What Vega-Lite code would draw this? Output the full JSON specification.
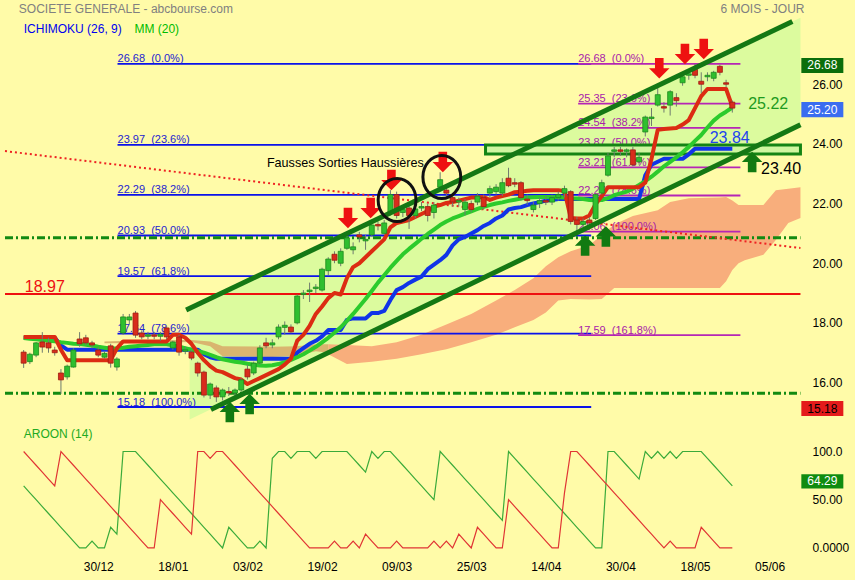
{
  "$schema": "https://vega.github.io/schema/vega-lite/v6.json",
  "width": 855,
  "height": 580,
  "autosize": {"type": "none"},
  "padding": 0,
  "background": "#fffba8",
  "config": {
    "view": {"stroke": null},
    "font": "Liberation Sans",
    "axis": {"labelFont": "Liberation Sans", "labelFontSize": 12, "labelColor": "#000000", "domain": false, "ticks": false, "grid": false, "title": null, "labelOverlap": false}
  },
  "datasets": {
    "px": [
      {"t":0,"o":17.02,"h":17.09,"l":16.49,"c":16.65,"tk":17.53,"kj":17.5,"mm":17.49,"au":64.29,"ad":100},
      {"t":1,"o":16.7,"h":17.0,"l":16.62,"c":16.95,"tk":17.53,"kj":17.5,"mm":17.47,"au":57.14,"ad":92.86},
      {"t":2,"o":16.92,"h":17.36,"l":16.85,"c":17.33,"tk":17.53,"kj":17.5,"mm":17.45,"au":50,"ad":85.71},
      {"t":3,"o":17.36,"h":17.69,"l":17.0,"c":17.19,"tk":17.53,"kj":17.5,"mm":17.43,"au":42.86,"ad":78.57},
      {"t":4,"o":17.33,"h":17.5,"l":17.0,"c":17.16,"tk":17.53,"kj":17.5,"mm":17.4,"au":35.71,"ad":71.43},
      {"t":5,"o":17.09,"h":17.2,"l":16.9,"c":17.0,"tk":17.53,"kj":17.5,"mm":17.38,"au":28.57,"ad":64.29},
      {"t":6,"o":16.32,"h":16.45,"l":15.62,"c":16.09,"tk":17.1,"kj":17.25,"mm":17.35,"au":21.43,"ad":100},
      {"t":7,"o":16.19,"h":16.6,"l":16.1,"c":16.55,"tk":16.75,"kj":17.1,"mm":17.33,"au":14.29,"ad":92.86},
      {"t":8,"o":16.52,"h":17.15,"l":16.5,"c":17.09,"tk":16.75,"kj":17.1,"mm":17.3,"au":7.14,"ad":85.71},
      {"t":9,"o":17.46,"h":17.69,"l":17.2,"c":17.3,"tk":16.75,"kj":17.1,"mm":17.29,"au":0,"ad":78.57},
      {"t":10,"o":17.5,"h":17.6,"l":17.25,"c":17.33,"tk":16.75,"kj":17.1,"mm":17.27,"au":0,"ad":71.43},
      {"t":11,"o":17.33,"h":17.4,"l":17.15,"c":17.26,"tk":16.75,"kj":17.1,"mm":17.24,"au":7.14,"ad":64.29},
      {"t":12,"o":17.09,"h":17.2,"l":16.85,"c":16.92,"tk":16.75,"kj":17.1,"mm":17.2,"au":0,"ad":57.14},
      {"t":13,"o":16.85,"h":17.05,"l":16.8,"c":16.98,"tk":16.75,"kj":17.1,"mm":17.17,"au":0,"ad":50},
      {"t":14,"o":17.23,"h":17.3,"l":16.5,"c":16.65,"tk":16.75,"kj":17.1,"mm":17.14,"au":21.43,"ad":42.86},
      {"t":15,"o":16.52,"h":16.85,"l":16.4,"c":16.79,"tk":17.15,"kj":17.1,"mm":17.15,"au":14.29,"ad":35.71},
      {"t":16,"o":17.66,"h":18.3,"l":17.6,"c":18.2,"tk":17.38,"kj":17.1,"mm":17.17,"au":100,"ad":28.57},
      {"t":17,"o":18.1,"h":18.3,"l":17.95,"c":18.2,"tk":17.38,"kj":17.1,"mm":17.2,"au":100,"ad":21.43},
      {"t":18,"o":18.33,"h":18.4,"l":17.5,"c":17.59,"tk":17.38,"kj":17.1,"mm":17.22,"au":100,"ad":14.29},
      {"t":19,"o":17.66,"h":17.75,"l":17.45,"c":17.53,"tk":17.38,"kj":17.1,"mm":17.24,"au":92.86,"ad":7.14},
      {"t":20,"o":17.55,"h":17.7,"l":17.45,"c":17.6,"tk":17.38,"kj":17.1,"mm":17.26,"au":85.71,"ad":0},
      {"t":21,"o":17.6,"h":17.7,"l":17.45,"c":17.55,"tk":17.38,"kj":17.1,"mm":17.28,"au":78.57,"ad":0},
      {"t":22,"o":17.55,"h":17.7,"l":17.4,"c":17.62,"tk":17.38,"kj":17.1,"mm":17.28,"au":71.43,"ad":50},
      {"t":23,"o":17.83,"h":17.9,"l":17.45,"c":17.53,"tk":17.38,"kj":17.1,"mm":17.28,"au":64.29,"ad":42.86},
      {"t":24,"o":17.16,"h":17.4,"l":17.1,"c":17.36,"tk":17.6,"kj":17.1,"mm":17.25,"au":57.14,"ad":35.71},
      {"t":25,"o":17.53,"h":17.6,"l":16.9,"c":17.02,"tk":17.6,"kj":17.1,"mm":17.2,"au":50,"ad":28.57},
      {"t":26,"o":17.05,"h":17.2,"l":16.95,"c":17.1,"tk":17.5,"kj":17.1,"mm":17.15,"au":42.86,"ad":21.43},
      {"t":27,"o":17.02,"h":17.1,"l":16.75,"c":16.82,"tk":17.3,"kj":17.1,"mm":17.1,"au":35.71,"ad":14.29},
      {"t":28,"o":16.65,"h":16.7,"l":16.2,"c":16.32,"tk":17.0,"kj":17.1,"mm":17.05,"au":28.57,"ad":100},
      {"t":29,"o":16.35,"h":16.4,"l":15.5,"c":15.58,"tk":16.75,"kj":16.95,"mm":17.0,"au":21.43,"ad":100},
      {"t":30,"o":15.58,"h":16.0,"l":15.45,"c":15.95,"tk":16.55,"kj":16.85,"mm":16.93,"au":14.29,"ad":92.86},
      {"t":31,"o":15.82,"h":15.9,"l":15.35,"c":15.52,"tk":16.4,"kj":16.8,"mm":16.85,"au":7.14,"ad":100},
      {"t":32,"o":15.52,"h":15.8,"l":15.4,"c":15.75,"tk":16.35,"kj":16.8,"mm":16.78,"au":0,"ad":100},
      {"t":33,"o":15.7,"h":15.85,"l":15.55,"c":15.65,"tk":16.25,"kj":16.8,"mm":16.74,"au":21.43,"ad":92.86},
      {"t":34,"o":15.65,"h":15.8,"l":15.55,"c":15.75,"tk":16.15,"kj":16.8,"mm":16.7,"au":14.29,"ad":85.71},
      {"t":35,"o":15.75,"h":16.15,"l":15.7,"c":16.09,"tk":16.1,"kj":16.8,"mm":16.67,"au":7.14,"ad":78.57},
      {"t":36,"o":16.45,"h":16.6,"l":16.1,"c":16.19,"tk":15.95,"kj":16.8,"mm":16.63,"au":0,"ad":71.43},
      {"t":37,"o":16.32,"h":16.7,"l":16.25,"c":16.65,"tk":16.05,"kj":16.8,"mm":16.6,"au":0,"ad":64.29},
      {"t":38,"o":16.65,"h":17.25,"l":16.6,"c":17.16,"tk":16.15,"kj":16.8,"mm":16.57,"au":7.14,"ad":57.14},
      {"t":39,"o":17.33,"h":17.5,"l":17.15,"c":17.23,"tk":16.25,"kj":16.8,"mm":16.56,"au":0,"ad":50},
      {"t":40,"o":17.26,"h":17.45,"l":17.15,"c":17.33,"tk":16.35,"kj":16.8,"mm":16.58,"au":92.86,"ad":42.86},
      {"t":41,"o":17.53,"h":17.95,"l":17.45,"c":17.86,"tk":16.45,"kj":16.8,"mm":16.62,"au":100,"ad":35.71},
      {"t":42,"o":17.85,"h":18.05,"l":17.6,"c":17.92,"tk":16.6,"kj":16.8,"mm":16.68,"au":100,"ad":28.57},
      {"t":43,"o":17.86,"h":17.95,"l":17.65,"c":17.7,"tk":16.8,"kj":16.8,"mm":16.76,"au":92.86,"ad":21.43},
      {"t":44,"o":18.0,"h":18.95,"l":17.95,"c":18.9,"tk":17.4,"kj":17.0,"mm":16.85,"au":100,"ad":14.29},
      {"t":45,"o":18.95,"h":19.1,"l":18.8,"c":19.0,"tk":17.6,"kj":17.15,"mm":16.95,"au":100,"ad":7.14},
      {"t":46,"o":19.05,"h":19.35,"l":18.7,"c":19.1,"tk":17.9,"kj":17.3,"mm":17.07,"au":100,"ad":0},
      {"t":47,"o":19.15,"h":19.3,"l":19.0,"c":19.2,"tk":18.3,"kj":17.4,"mm":17.2,"au":92.86,"ad":0},
      {"t":48,"o":19.1,"h":19.85,"l":19.05,"c":19.8,"tk":18.55,"kj":17.55,"mm":17.35,"au":100,"ad":0},
      {"t":49,"o":19.75,"h":20.2,"l":19.6,"c":20.14,"tk":18.83,"kj":17.76,"mm":17.5,"au":100,"ad":0},
      {"t":50,"o":20.3,"h":20.4,"l":20.0,"c":20.1,"tk":19.0,"kj":17.76,"mm":17.67,"au":100,"ad":7.14},
      {"t":51,"o":20.0,"h":20.5,"l":19.9,"c":20.4,"tk":18.95,"kj":17.76,"mm":17.85,"au":100,"ad":0},
      {"t":52,"o":20.5,"h":20.95,"l":20.45,"c":20.85,"tk":19.5,"kj":18.1,"mm":18.07,"au":100,"ad":0},
      {"t":53,"o":20.45,"h":20.7,"l":20.3,"c":20.55,"tk":19.87,"kj":18.15,"mm":18.3,"au":92.86,"ad":7.14},
      {"t":54,"o":20.95,"h":21.05,"l":20.7,"c":20.88,"tk":20.0,"kj":18.15,"mm":18.55,"au":85.71,"ad":0},
      {"t":55,"o":20.75,"h":20.95,"l":20.45,"c":20.8,"tk":20.2,"kj":18.15,"mm":18.8,"au":78.57,"ad":14.29},
      {"t":56,"o":20.95,"h":21.4,"l":20.9,"c":21.28,"tk":20.4,"kj":18.33,"mm":19.07,"au":100,"ad":7.14},
      {"t":57,"o":21.3,"h":21.4,"l":21.1,"c":21.25,"tk":20.6,"kj":18.33,"mm":19.35,"au":92.86,"ad":0},
      {"t":58,"o":21.0,"h":21.45,"l":20.95,"c":21.35,"tk":20.8,"kj":18.4,"mm":19.6,"au":100,"ad":0},
      {"t":59,"o":21.7,"h":22.45,"l":21.6,"c":22.3,"tk":21.2,"kj":18.77,"mm":19.85,"au":100,"ad":0},
      {"t":60,"o":22.3,"h":22.4,"l":21.5,"c":21.6,"tk":21.35,"kj":19.1,"mm":20.08,"au":92.86,"ad":7.14},
      {"t":61,"o":21.7,"h":21.9,"l":21.55,"c":21.8,"tk":21.4,"kj":19.2,"mm":20.3,"au":85.71,"ad":0},
      {"t":62,"o":21.85,"h":22.0,"l":21.15,"c":21.6,"tk":21.45,"kj":19.34,"mm":20.48,"au":78.57,"ad":0},
      {"t":63,"o":21.6,"h":21.95,"l":21.5,"c":21.82,"tk":21.55,"kj":19.45,"mm":20.65,"au":71.43,"ad":0},
      {"t":64,"o":21.85,"h":22.05,"l":21.75,"c":21.9,"tk":21.65,"kj":19.55,"mm":20.82,"au":64.29,"ad":0},
      {"t":65,"o":21.9,"h":22.0,"l":21.4,"c":21.6,"tk":21.75,"kj":19.8,"mm":20.98,"au":57.14,"ad":0},
      {"t":66,"o":21.7,"h":22.05,"l":21.5,"c":21.95,"tk":21.9,"kj":19.95,"mm":21.13,"au":50,"ad":7.14},
      {"t":67,"o":22.55,"h":23.05,"l":22.4,"c":22.8,"tk":21.95,"kj":20.1,"mm":21.28,"au":100,"ad":0},
      {"t":68,"o":22.45,"h":22.55,"l":22.2,"c":22.35,"tk":22.02,"kj":20.28,"mm":21.4,"au":92.86,"ad":7.14},
      {"t":69,"o":22.2,"h":22.3,"l":21.9,"c":22.05,"tk":22.05,"kj":20.6,"mm":21.5,"au":85.71,"ad":0},
      {"t":70,"o":22.05,"h":22.2,"l":21.9,"c":22.1,"tk":22.1,"kj":20.8,"mm":21.58,"au":78.57,"ad":14.29},
      {"t":71,"o":21.8,"h":22.15,"l":21.6,"c":22.05,"tk":22.15,"kj":20.88,"mm":21.66,"au":71.43,"ad":7.14},
      {"t":72,"o":22.0,"h":22.1,"l":21.7,"c":21.8,"tk":22.2,"kj":21.0,"mm":21.74,"au":64.29,"ad":0},
      {"t":73,"o":22.05,"h":22.35,"l":21.95,"c":22.25,"tk":22.2,"kj":21.11,"mm":21.82,"au":57.14,"ad":21.43},
      {"t":74,"o":22.2,"h":22.3,"l":21.8,"c":21.9,"tk":22.22,"kj":21.25,"mm":21.89,"au":50,"ad":14.29},
      {"t":75,"o":22.35,"h":22.6,"l":22.2,"c":22.5,"tk":22.12,"kj":21.35,"mm":21.95,"au":42.86,"ad":7.14},
      {"t":76,"o":22.4,"h":22.65,"l":22.3,"c":22.55,"tk":22.2,"kj":21.5,"mm":22.0,"au":35.71,"ad":0},
      {"t":77,"o":22.35,"h":22.85,"l":22.25,"c":22.7,"tk":22.25,"kj":21.6,"mm":22.04,"au":28.57,"ad":0},
      {"t":78,"o":22.85,"h":23.2,"l":22.55,"c":22.6,"tk":22.3,"kj":21.8,"mm":22.09,"au":100,"ad":50},
      {"t":79,"o":22.7,"h":22.85,"l":22.55,"c":22.65,"tk":22.38,"kj":21.85,"mm":22.13,"au":92.86,"ad":42.86},
      {"t":80,"o":22.7,"h":22.75,"l":22.1,"c":22.2,"tk":22.4,"kj":21.88,"mm":22.17,"au":85.71,"ad":35.71},
      {"t":81,"o":22.15,"h":22.3,"l":21.95,"c":22.1,"tk":22.43,"kj":21.95,"mm":22.2,"au":78.57,"ad":28.57},
      {"t":82,"o":21.8,"h":22.05,"l":21.7,"c":21.95,"tk":22.45,"kj":22.0,"mm":22.21,"au":71.43,"ad":21.43},
      {"t":83,"o":22.0,"h":22.2,"l":21.85,"c":22.1,"tk":22.45,"kj":22.05,"mm":22.22,"au":64.29,"ad":14.29},
      {"t":84,"o":22.1,"h":22.25,"l":21.95,"c":22.05,"tk":22.45,"kj":22.1,"mm":22.22,"au":57.14,"ad":7.14},
      {"t":85,"o":22.05,"h":22.3,"l":21.95,"c":22.2,"tk":22.45,"kj":22.12,"mm":22.22,"au":50,"ad":0},
      {"t":86,"o":22.2,"h":22.4,"l":22.1,"c":22.3,"tk":22.45,"kj":22.15,"mm":22.21,"au":42.86,"ad":0},
      {"t":87,"o":22.35,"h":22.6,"l":22.2,"c":22.5,"tk":22.42,"kj":22.15,"mm":22.2,"au":35.71,"ad":57.14},
      {"t":88,"o":22.4,"h":22.45,"l":21.3,"c":21.4,"tk":21.52,"kj":22.15,"mm":22.18,"au":28.57,"ad":100},
      {"t":89,"o":21.45,"h":21.55,"l":21.0,"c":21.3,"tk":21.5,"kj":22.15,"mm":22.17,"au":21.43,"ad":100},
      {"t":90,"o":21.3,"h":21.5,"l":21.2,"c":21.4,"tk":21.5,"kj":22.15,"mm":22.15,"au":14.29,"ad":92.86},
      {"t":91,"o":21.45,"h":21.55,"l":21.2,"c":21.35,"tk":21.6,"kj":22.15,"mm":22.12,"au":7.14,"ad":85.71},
      {"t":92,"o":21.5,"h":22.35,"l":21.45,"c":22.3,"tk":21.98,"kj":22.15,"mm":22.11,"au":0,"ad":78.57},
      {"t":93,"o":22.35,"h":22.8,"l":22.3,"c":22.7,"tk":22.25,"kj":22.15,"mm":22.12,"au":0,"ad":71.43},
      {"t":94,"o":22.95,"h":23.7,"l":22.9,"c":23.6,"tk":22.55,"kj":22.15,"mm":22.18,"au":100,"ad":64.29},
      {"t":95,"o":23.75,"h":23.9,"l":23.55,"c":23.8,"tk":22.55,"kj":22.15,"mm":22.28,"au":100,"ad":57.14},
      {"t":96,"o":23.8,"h":23.9,"l":23.6,"c":23.75,"tk":22.55,"kj":22.15,"mm":22.34,"au":92.86,"ad":50},
      {"t":97,"o":23.75,"h":23.85,"l":23.55,"c":23.8,"tk":22.55,"kj":22.15,"mm":22.4,"au":85.71,"ad":42.86},
      {"t":98,"o":23.8,"h":23.9,"l":23.25,"c":23.3,"tk":22.55,"kj":22.15,"mm":22.5,"au":78.57,"ad":35.71},
      {"t":99,"o":23.4,"h":23.7,"l":23.3,"c":23.55,"tk":22.55,"kj":22.15,"mm":22.62,"au":71.43,"ad":28.57},
      {"t":100,"o":24.4,"h":24.95,"l":24.25,"c":24.9,"tk":22.7,"kj":22.95,"mm":22.75,"au":100,"ad":21.43},
      {"t":101,"o":24.85,"h":25.2,"l":24.6,"c":24.9,"tk":23.5,"kj":23.3,"mm":22.9,"au":92.86,"ad":14.29},
      {"t":102,"o":25.3,"h":25.95,"l":25.25,"c":25.65,"tk":24.47,"kj":23.4,"mm":23.07,"au":100,"ad":7.14},
      {"t":103,"o":25.25,"h":25.4,"l":25.05,"c":25.2,"tk":24.5,"kj":23.5,"mm":23.25,"au":92.86,"ad":0},
      {"t":104,"o":25.3,"h":25.8,"l":24.95,"c":25.75,"tk":24.52,"kj":23.5,"mm":23.4,"au":100,"ad":7.14},
      {"t":105,"o":25.55,"h":25.7,"l":25.25,"c":25.45,"tk":24.53,"kj":23.5,"mm":23.55,"au":92.86,"ad":0},
      {"t":106,"o":26.05,"h":26.35,"l":25.95,"c":26.25,"tk":24.65,"kj":23.5,"mm":23.72,"au":100,"ad":0},
      {"t":107,"o":26.3,"h":26.45,"l":26.15,"c":26.35,"tk":24.8,"kj":23.65,"mm":23.9,"au":100,"ad":0},
      {"t":108,"o":26.5,"h":26.68,"l":26.2,"c":26.3,"tk":25.2,"kj":23.84,"mm":24.1,"au":100,"ad":0},
      {"t":109,"o":26.1,"h":26.4,"l":25.7,"c":26.0,"tk":25.6,"kj":23.84,"mm":24.3,"au":100,"ad":21.43},
      {"t":110,"o":26.25,"h":26.4,"l":26.1,"c":26.3,"tk":25.84,"kj":23.84,"mm":24.55,"au":92.86,"ad":14.29},
      {"t":111,"o":26.2,"h":26.45,"l":26.1,"c":26.4,"tk":25.84,"kj":23.84,"mm":24.78,"au":85.71,"ad":7.14},
      {"t":112,"o":26.6,"h":26.65,"l":26.3,"c":26.4,"tk":25.84,"kj":23.84,"mm":24.95,"au":78.57,"ad":0},
      {"t":113,"o":26.05,"h":26.15,"l":25.9,"c":26.0,"tk":25.84,"kj":23.84,"mm":25.08,"au":71.43,"ad":0},
      {"t":114,"o":25.4,"h":25.45,"l":25.05,"c":25.2,"tk":25.25,"kj":23.84,"mm":25.22,"au":64.29,"ad":0}
    ],
    "kumo": [
      {"t":13,"a":17.38,"b":17.32,"k":"t"},
      {"t":20,"a":17.42,"b":17.33,"k":"t"},
      {"t":27,"a":17.43,"b":17.36,"k":"t"},
      {"t":30,"a":17.38,"b":17.22,"k":"t"},
      {"t":32,"a":17.22,"b":16.88,"k":"t"},
      {"t":40,"a":17.2,"b":16.86,"k":"t"},
      {"t":44,"a":17.22,"b":16.9,"k":"t"},
      {"t":47,"a":17.28,"b":17.05,"k":"t"},
      {"t":49,"a":17.28,"b":17.0,"k":"t"},
      {"t":49,"a":17.28,"b":16.95,"k":"s"},
      {"t":52,"a":17.26,"b":16.62,"k":"s"},
      {"t":56,"a":17.22,"b":16.7,"k":"s"},
      {"t":60,"a":17.35,"b":16.8,"k":"s"},
      {"t":64,"a":17.6,"b":16.95,"k":"s"},
      {"t":68,"a":17.95,"b":17.12,"k":"s"},
      {"t":72,"a":18.3,"b":17.35,"k":"s"},
      {"t":76,"a":18.75,"b":17.6,"k":"s"},
      {"t":79,"a":19.1,"b":17.85,"k":"s"},
      {"t":82,"a":19.5,"b":18.1,"k":"s"},
      {"t":84,"a":19.9,"b":18.35,"k":"s"},
      {"t":86,"a":20.2,"b":18.75,"k":"s"},
      {"t":88,"a":20.4,"b":18.8,"k":"s"},
      {"t":91,"a":20.6,"b":18.78,"k":"s"},
      {"t":93,"a":20.95,"b":18.8,"k":"s"},
      {"t":95,"a":21.3,"b":19.17,"k":"s"},
      {"t":98,"a":21.58,"b":19.17,"k":"s"},
      {"t":102,"a":21.78,"b":19.17,"k":"s"},
      {"t":104,"a":22.05,"b":19.17,"k":"s"},
      {"t":107,"a":22.18,"b":19.17,"k":"s"},
      {"t":112,"a":22.2,"b":19.17,"k":"s"},
      {"t":113,"a":22.22,"b":19.4,"k":"s"},
      {"t":114,"a":22.1,"b":19.77,"k":"s"},
      {"t":115,"a":21.95,"b":20.0,"k":"s"},
      {"t":116,"a":21.95,"b":20.1,"k":"s"},
      {"t":119,"a":21.95,"b":20.28,"k":"s"},
      {"t":121,"a":22.45,"b":20.78,"k":"s"},
      {"t":123,"a":22.5,"b":21.35,"k":"s"},
      {"t":124.96,"a":22.55,"b":21.52,"k":"s"}
    ],
    "fib": [
      {"t":15.1,"t2":91.3,"p":26.68,"lab":"26.68\u00a0\u00a0(0.0%)","g":"b"},
      {"t":15.1,"t2":91.3,"p":23.97,"lab":"23.97\u00a0\u00a0(23.6%)","g":"b"},
      {"t":15.1,"t2":91.3,"p":22.29,"lab":"22.29\u00a0\u00a0(38.2%)","g":"b"},
      {"t":15.1,"t2":91.3,"p":20.93,"lab":"20.93\u00a0\u00a0(50.0%)","g":"b"},
      {"t":15.1,"t2":91.3,"p":19.57,"lab":"19.57\u00a0\u00a0(61.8%)","g":"b"},
      {"t":15.1,"t2":91.3,"p":17.64,"lab":"17.64\u00a0\u00a0(78.6%)","g":"b"},
      {"t":15.1,"t2":91.3,"p":15.18,"lab":"15.18\u00a0\u00a0(100.0%)","g":"b"},
      {"t":89.2,"t2":115.3,"p":26.68,"lab":"26.68\u00a0\u00a0(0.0%)","g":"m"},
      {"t":89.2,"t2":115.3,"p":25.35,"lab":"25.35\u00a0\u00a0(23.6%)","g":"m"},
      {"t":89.2,"t2":115.3,"p":24.54,"lab":"24.54\u00a0\u00a0(38.2%)","g":"m"},
      {"t":89.2,"t2":115.3,"p":23.87,"lab":"23.87\u00a0\u00a0(50.0%)","g":"m"},
      {"t":89.2,"t2":115.3,"p":23.21,"lab":"23.21\u00a0\u00a0(61.8%)","g":"m"},
      {"t":89.2,"t2":115.3,"p":22.27,"lab":"22.27\u00a0\u00a0(78.6%)","g":"m"},
      {"t":89.2,"t2":115.3,"p":21.06,"lab":"21.06\u00a0\u00a0(100.0%)","g":"m"},
      {"t":89.2,"t2":115.3,"p":17.59,"lab":"17.59\u00a0\u00a0(161.8%)","g":"m"}
    ],
    "hz": [
      {"p":18.97,"k":"res"},
      {"p":20.85,"k":"sup"},
      {"p":15.64,"k":"sup"}
    ],
    "seg": [
      {"t":26.14,"p":18.43,"t2":123.66,"p2":28.1,"k":"ch"},
      {"t":30.12,"p":15.1,"t2":124.96,"p2":24.64,"k":"ch"},
      {"t":-3,"p":23.76,"t2":124.96,"p2":20.51,"k":"tr"}
    ],
    "chf": [
      {"t":26.7,"p":18.49,"p2":14.76},
      {"t":124.96,"p":28.23,"p2":24.64}
    ],
    "box": [
      {"t":74.3,"t2":124.96,"p":23.96,"p2":23.66}
    ],
    "arw": [
      {"t":52.17,"p":21.52,"d":"dn"},
      {"t":55.82,"p":21.85,"d":"dn"},
      {"t":59.16,"p":22.79,"d":"dn"},
      {"t":67.43,"p":23.39,"d":"dn"},
      {"t":102.25,"p":26.54,"d":"dn"},
      {"t":106.38,"p":27.01,"d":"dn"},
      {"t":109.4,"p":27.18,"d":"dn"},
      {"t":33.17,"p":15.01,"d":"up"},
      {"t":36.35,"p":15.28,"d":"up"},
      {"t":90.32,"p":20.59,"d":"up"},
      {"t":93.66,"p":20.9,"d":"up"},
      {"t":117.19,"p":23.39,"d":"up"}
    ],
    "cir": [
      {"t":60.07,"p":22.12},
      {"t":67.27,"p":22.89}
    ],
    "txt": [
      {"s":"SOCIETE GENERALE - abcbourse.com","t":-0.77,"p":28.52,"k":"head"},
      {"s":"6 MOIS - JOUR","t":112.1,"p":28.52,"k":"head"},
      {"s":"ICHIMOKU (26, 9)","t":0.02,"p":27.85,"k":"ichi"},
      {"s":"MM (20)","t":17.82,"p":27.85,"k":"mm"},
      {"s":"Fausses Sorties Haussières","t":39.13,"p":23.37,"k":"note"},
      {"s":"18.97","t":0.18,"p":19.21,"k":"red"},
      {"s":"25.22","t":116.55,"p":25.33,"k":"grn"},
      {"s":"23.84","t":110.35,"p":24.21,"k":"blu"},
      {"s":"23.40","t":118.62,"p":23.15,"k":"blk"}
    ],
    "tag": [
      {"p":26.68,"lab":"26.68"},
      {"p":25.2,"lab":"25.20"},
      {"p":15.18,"lab":"15.18"}
    ],
    "atag": [
      {"v":64.29,"lab":"64.29"}
    ],
    "atxt": [
      {"s":"AROON (14)","t":0.02,"v":118.2}
    ]
  },
  "resolve": {"scale": {"y": "independent", "color": "independent"}, "axis": {"y": "independent"}},
  "layer": [
    {
      "resolve": {"scale": {"color": "independent"}},
      "layer": [
        {
          "data": {"name": "chf"},
          "mark": {"type": "area", "color": "#dcfb9e"},
          "encoding": {
            "x": {"field": "t", "type": "quantitative", "scale": {"domain": [-3, 132.93], "nice": false, "zero": false},
                  "axis": {"orient": "bottom", "offset": -22, "values": [12, 24, 36, 48, 60, 72, 84, 96, 108, 120], "title": null,
                           "labelExpr": "['30/12','18/01','03/02','19/02','09/03','25/03','14/04','30/04','18/05','05/06'][round(datum.value / 12) - 1]",
                           "labelPadding": 3, "labelFlush": false}},
            "y": {"field": "p", "type": "quantitative", "scale": {"domain": [9.381, 28.824], "nice": false, "zero": false},
                  "axis": {"orient": "right", "offset": -50, "values": [16, 18, 20, 22, 24, 26], "format": ".2f", "labelPadding": 7, "title": null}},
            "y2": {"field": "p2"}
          }
        },
        {
          "data": {"name": "kumo"},
          "mark": {"type": "area"},
          "encoding": {
            "x": {"field": "t", "type": "quantitative", "scale": {"domain": [-3, 132.93], "nice": false, "zero": false}},
            "y": {"field": "a", "type": "quantitative", "scale": {"domain": [9.381, 28.824], "nice": false, "zero": false}},
            "y2": {"field": "b"},
            "color": {"field": "k", "type": "nominal", "scale": {"domain": ["t", "s"], "range": ["#d9b56f", "#f8ae7c"]}, "legend": null}
          }
        },
        {
          "data": {"name": "fib"},
          "mark": {"type": "rule", "strokeWidth": 1.8},
          "encoding": {
            "x": {"field": "t", "type": "quantitative", "scale": {"domain": [-3, 132.93], "nice": false, "zero": false}},
            "x2": {"field": "t2"},
            "y": {"field": "p", "type": "quantitative", "scale": {"domain": [9.381, 28.824], "nice": false, "zero": false}},
            "color": {"field": "g", "type": "nominal", "scale": {"domain": ["b", "m"], "range": ["#0a12ea", "#b526b5"]}, "legend": null}
          }
        },
        {
          "data": {"name": "fib"},
          "mark": {"type": "text", "align": "left", "baseline": "alphabetic", "dy": -1.5, "fontSize": 11},
          "encoding": {
            "x": {"field": "t", "type": "quantitative", "scale": {"domain": [-3, 132.93], "nice": false, "zero": false}},
            "y": {"field": "p", "type": "quantitative", "scale": {"domain": [9.381, 28.824], "nice": false, "zero": false}},
            "text": {"field": "lab"},
            "color": {"field": "g", "type": "nominal", "scale": {"domain": ["b", "m"], "range": ["#2424d0", "#a822a8"]}, "legend": null}
          }
        },
        {
          "data": {"name": "hz"},
          "transform": [{"filter": "datum.k == 'res'"}],
          "mark": {"type": "rule", "color": "#ee1010", "strokeWidth": 2},
          "encoding": {
            "x": {"datum": -3, "type": "quantitative", "scale": {"domain": [-3, 132.93], "nice": false, "zero": false}},
            "x2": {"datum": 124.96},
            "y": {"field": "p", "type": "quantitative", "scale": {"domain": [9.381, 28.824], "nice": false, "zero": false}}
          }
        },
        {
          "data": {"name": "hz"},
          "transform": [{"filter": "datum.k == 'sup'"}],
          "mark": {"type": "rule", "color": "#128a12", "strokeWidth": 3, "strokeDash": [8, 3, 2, 3]},
          "encoding": {
            "x": {"datum": -3, "type": "quantitative", "scale": {"domain": [-3, 132.93], "nice": false, "zero": false}},
            "x2": {"datum": 124.96},
            "y": {"field": "p", "type": "quantitative", "scale": {"domain": [9.381, 28.824], "nice": false, "zero": false}}
          }
        },
        {
          "data": {"name": "seg"},
          "transform": [{"filter": "datum.k == 'tr'"}],
          "mark": {"type": "rule", "color": "#ee2222", "strokeWidth": 2, "strokeDash": [2, 3]},
          "encoding": {
            "x": {"field": "t", "type": "quantitative", "scale": {"domain": [-3, 132.93], "nice": false, "zero": false}},
            "x2": {"field": "t2"},
            "y": {"field": "p", "type": "quantitative", "scale": {"domain": [9.381, 28.824], "nice": false, "zero": false}},
            "y2": {"field": "p2"}
          }
        },
        {
          "data": {"name": "box"},
          "mark": {"type": "rect", "fill": "#d0f6a0", "stroke": "#148414", "strokeWidth": 3},
          "encoding": {
            "x": {"field": "t", "type": "quantitative", "scale": {"domain": [-3, 132.93], "nice": false, "zero": false}},
            "x2": {"field": "t2"},
            "y": {"field": "p", "type": "quantitative", "scale": {"domain": [9.381, 28.824], "nice": false, "zero": false}},
            "y2": {"field": "p2"}
          }
        },
        {
          "data": {"name": "px"},
          "mark": {"type": "line", "color": "#1034e8", "strokeWidth": 4, "strokeJoin": "round"},
          "encoding": {
            "x": {"field": "t", "type": "quantitative", "scale": {"domain": [-3, 132.93], "nice": false, "zero": false}},
            "y": {"field": "kj", "type": "quantitative", "scale": {"domain": [9.381, 28.824], "nice": false, "zero": false}}
          }
        },
        {
          "data": {"name": "px"},
          "mark": {"type": "line", "color": "#2ccb2c", "strokeWidth": 4, "strokeJoin": "round"},
          "encoding": {
            "x": {"field": "t", "type": "quantitative", "scale": {"domain": [-3, 132.93], "nice": false, "zero": false}},
            "y": {"field": "mm", "type": "quantitative", "scale": {"domain": [9.381, 28.824], "nice": false, "zero": false}}
          }
        },
        {
          "data": {"name": "px"},
          "mark": {"type": "line", "color": "#dc2c12", "strokeWidth": 4, "strokeJoin": "round"},
          "encoding": {
            "x": {"field": "t", "type": "quantitative", "scale": {"domain": [-3, 132.93], "nice": false, "zero": false}},
            "y": {"field": "tk", "type": "quantitative", "scale": {"domain": [9.381, 28.824], "nice": false, "zero": false}}
          }
        },
        {
          "data": {"name": "px"},
          "mark": {"type": "rule", "color": "#6f7b6f", "strokeWidth": 1},
          "encoding": {
            "x": {"field": "t", "type": "quantitative", "scale": {"domain": [-3, 132.93], "nice": false, "zero": false}},
            "y": {"field": "l", "type": "quantitative", "scale": {"domain": [9.381, 28.824], "nice": false, "zero": false}},
            "y2": {"field": "h"}
          }
        },
        {
          "data": {"name": "px"},
          "mark": {"type": "bar", "orient": "vertical", "width": 5, "strokeWidth": 0.8},
          "encoding": {
            "x": {"field": "t", "type": "quantitative", "scale": {"domain": [-3, 132.93], "nice": false, "zero": false}},
            "y": {"field": "o", "type": "quantitative", "scale": {"domain": [9.381, 28.824], "nice": false, "zero": false}},
            "y2": {"field": "c"},
            "fill": {"condition": {"test": "datum.c >= datum.o", "value": "#2fbf2f"}, "value": "#d82c1c"},
            "stroke": {"condition": {"test": "datum.c >= datum.o", "value": "#1d8a1d"}, "value": "#9e1c10"}
          }
        },
        {
          "data": {"name": "seg"},
          "transform": [{"filter": "datum.k == 'ch'"}],
          "mark": {"type": "rule", "color": "#147814", "strokeWidth": 5},
          "encoding": {
            "x": {"field": "t", "type": "quantitative", "scale": {"domain": [-3, 132.93], "nice": false, "zero": false}},
            "x2": {"field": "t2"},
            "y": {"field": "p", "type": "quantitative", "scale": {"domain": [9.381, 28.824], "nice": false, "zero": false}},
            "y2": {"field": "p2"}
          }
        },
        {
          "data": {"name": "arw"},
          "mark": {"type": "point", "filled": true, "opacity": 1, "size": 420},
          "encoding": {
            "x": {"field": "t", "type": "quantitative", "scale": {"domain": [-3, 132.93], "nice": false, "zero": false}},
            "y": {"field": "p", "type": "quantitative", "scale": {"domain": [9.381, 28.824], "nice": false, "zero": false}},
            "shape": {"field": "d", "type": "nominal", "scale": {"domain": ["dn", "up"], "range": ["M-0.42,-1L0.42,-1L0.42,0L1,0L0,1L-1,0L-0.42,0Z", "M-0.42,1L0.42,1L0.42,0L1,0L0,-1L-1,0L-0.42,0Z"]}, "legend": null},
            "color": {"field": "d", "type": "nominal", "scale": {"domain": ["dn", "up"], "range": ["#ee1111", "#117a11"]}, "legend": null}
          }
        },
        {
          "data": {"name": "cir"},
          "mark": {"type": "point", "filled": false, "shape": "M0,-1A0.88,1,0,1,1,0,1A0.88,1,0,1,1,0,-1Z", "size": 1849, "stroke": "#111111", "strokeWidth": 3, "opacity": 1},
          "encoding": {
            "x": {"field": "t", "type": "quantitative", "scale": {"domain": [-3, 132.93], "nice": false, "zero": false}},
            "y": {"field": "p", "type": "quantitative", "scale": {"domain": [9.381, 28.824], "nice": false, "zero": false}}
          }
        },
        {
          "data": {"name": "txt"},
          "transform": [{"filter": {"field": "k", "oneOf": ["head", "ichi", "mm"]}}],
          "mark": {"type": "text", "align": "left", "baseline": "middle", "fontSize": 12},
          "encoding": {
            "x": {"field": "t", "type": "quantitative", "scale": {"domain": [-3, 132.93], "nice": false, "zero": false}},
            "y": {"field": "p", "type": "quantitative", "scale": {"domain": [9.381, 28.824], "nice": false, "zero": false}},
            "text": {"field": "s"},
            "color": {"field": "k", "type": "nominal", "scale": {"domain": ["head", "ichi", "mm"], "range": ["#808080", "#0000f0", "#00bb00"]}, "legend": null}
          }
        },
        {
          "data": {"name": "txt"},
          "transform": [{"filter": "datum.k == 'note'"}],
          "mark": {"type": "text", "align": "left", "baseline": "middle", "fontSize": 12.6, "color": "#000000"},
          "encoding": {
            "x": {"field": "t", "type": "quantitative", "scale": {"domain": [-3, 132.93], "nice": false, "zero": false}},
            "y": {"field": "p", "type": "quantitative", "scale": {"domain": [9.381, 28.824], "nice": false, "zero": false}},
            "text": {"field": "s"}
          }
        },
        {
          "data": {"name": "txt"},
          "transform": [{"filter": {"field": "k", "oneOf": ["red", "grn", "blu", "blk"]}}],
          "mark": {"type": "text", "align": "left", "baseline": "middle", "fontSize": 16},
          "encoding": {
            "x": {"field": "t", "type": "quantitative", "scale": {"domain": [-3, 132.93], "nice": false, "zero": false}},
            "y": {"field": "p", "type": "quantitative", "scale": {"domain": [9.381, 28.824], "nice": false, "zero": false}},
            "text": {"field": "s"},
            "color": {"field": "k", "type": "nominal", "scale": {"domain": ["red", "grn", "blu", "blk"], "range": ["#ee1111", "#1e9a1e", "#2244ee", "#000000"]}, "legend": null}
          }
        },
        {
          "data": {"name": "tag"},
          "mark": {"type": "point", "filled": true, "opacity": 1, "shape": "M-1,-0.36L1,-0.36L1,0.36L-1,0.36Z", "size": 1764, "yOffset": 1.5},
          "encoding": {
            "x": {"datum": 128.48, "type": "quantitative", "scale": {"domain": [-3, 132.93], "nice": false, "zero": false}},
            "y": {"field": "p", "type": "quantitative", "scale": {"domain": [9.381, 28.824], "nice": false, "zero": false}},
            "color": {"field": "lab", "type": "nominal", "scale": {"domain": ["26.68", "25.20", "15.18"], "range": ["#0b6e0b", "#3a6df0", "#e41b1b"]}, "legend": null}
          }
        },
        {
          "data": {"name": "tag"},
          "mark": {"type": "text", "align": "center", "baseline": "middle", "fontSize": 12, "yOffset": 1.5},
          "encoding": {
            "x": {"datum": 128.48, "type": "quantitative", "scale": {"domain": [-3, 132.93], "nice": false, "zero": false}},
            "y": {"field": "p", "type": "quantitative", "scale": {"domain": [9.381, 28.824], "nice": false, "zero": false}},
            "text": {"field": "lab"},
            "color": {"field": "lab", "type": "nominal", "scale": {"domain": ["26.68", "25.20", "15.18"], "range": ["#ffffff", "#ffffff", "#000000"]}, "legend": null}
          }
        }
      ]
    },
    {
      "layer": [
        {
          "data": {"name": "px"},
          "mark": {"type": "line", "color": "#3aaa3a", "strokeWidth": 1.2},
          "encoding": {
            "x": {"field": "t", "type": "quantitative", "scale": {"domain": [-3, 132.93], "nice": false, "zero": false},
                  "axis": {"orient": "bottom", "offset": -22, "values": [12, 24, 36, 48, 60, 72, 84, 96, 108, 120], "title": null,
                           "labelExpr": "['30/12','18/01','03/02','19/02','09/03','25/03','14/04','30/04','18/05','05/06'][round(datum.value / 12) - 1]",
                           "labelPadding": 3, "labelFlush": false}},
            "y": {"field": "au", "type": "quantitative", "scale": {"domain": [-33.2, 567.9], "nice": false, "zero": false},
                  "axis": {"orient": "right", "offset": -50, "values": [0, 50, 100], "labelPadding": 7, "title": null,
                           "labelExpr": "datum.value == 0 ? '0.0000' : datum.value == 50 ? '50.00' : '100.0'"}}
          }
        },
        {
          "data": {"name": "px"},
          "mark": {"type": "line", "color": "#e03434", "strokeWidth": 1.2},
          "encoding": {
            "x": {"field": "t", "type": "quantitative", "scale": {"domain": [-3, 132.93], "nice": false, "zero": false}},
            "y": {"field": "ad", "type": "quantitative", "scale": {"domain": [-33.2, 567.9], "nice": false, "zero": false}}
          }
        },
        {
          "data": {"name": "atag"},
          "mark": {"type": "point", "filled": true, "opacity": 1, "color": "#108c10", "shape": "M-1,-0.34L1,-0.34L1,0.34L-1,0.34Z", "size": 1764, "yOffset": -4.5},
          "encoding": {
            "x": {"datum": 128.48, "type": "quantitative", "scale": {"domain": [-3, 132.93], "nice": false, "zero": false}},
            "y": {"field": "v", "type": "quantitative", "scale": {"domain": [-33.2, 567.9], "nice": false, "zero": false}}
          }
        },
        {
          "data": {"name": "atag"},
          "mark": {"type": "text", "align": "center", "baseline": "middle", "fontSize": 12, "color": "#ffffff", "yOffset": -4.5},
          "encoding": {
            "x": {"datum": 128.48, "type": "quantitative", "scale": {"domain": [-3, 132.93], "nice": false, "zero": false}},
            "y": {"field": "v", "type": "quantitative", "scale": {"domain": [-33.2, 567.9], "nice": false, "zero": false}},
            "text": {"field": "lab"}
          }
        },
        {
          "data": {"name": "atxt"},
          "mark": {"type": "text", "align": "left", "baseline": "middle", "fontSize": 12, "color": "#22aa22"},
          "encoding": {
            "x": {"field": "t", "type": "quantitative", "scale": {"domain": [-3, 132.93], "nice": false, "zero": false}},
            "y": {"field": "v", "type": "quantitative", "scale": {"domain": [-33.2, 567.9], "nice": false, "zero": false}},
            "text": {"field": "s"}
          }
        }
      ]
    }
  ]
}
